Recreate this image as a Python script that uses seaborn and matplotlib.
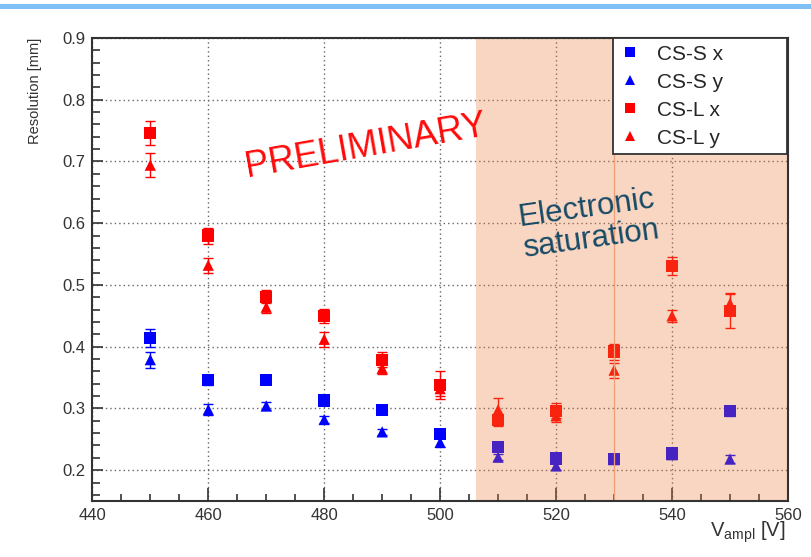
import numpy as np
import pandas as pd
import matplotlib
matplotlib.use("Agg")
import matplotlib.pyplot as plt
import seaborn as sns
from matplotlib.lines import Line2D
from matplotlib.ticker import MultipleLocator, FormatStrFormatter

# ---------------- data ----------------
voltages = [450, 460, 470, 480, 490, 500, 510, 520, 530, 540, 550]
cs_s_x = [0.414, 0.346, 0.346, 0.313, 0.298, 0.259, 0.238, 0.219, 0.218, 0.227, 0.296]
cs_s_x_err = [0.014, 0.008, 0.006, 0.005, 0.005, 0.006, 0.005, 0.005, 0.004, 0.004, 0.008]
cs_s_y = [0.379, 0.298, 0.304, 0.282, 0.262, 0.245, 0.221, 0.207, 0.217, 0.225, 0.218]
cs_s_y_err = [0.013, 0.009, 0.007, 0.006, 0.005, 0.007, 0.005, 0.006, 0.004, 0.004, 0.006]
cs_l_x = [0.746, 0.580, 0.481, 0.450, 0.379, 0.338, 0.281, 0.296, 0.392, 0.531, 0.458]
cs_l_x_err = [0.020, 0.013, 0.011, 0.011, 0.012, 0.022, 0.010, 0.012, 0.013, 0.015, 0.028]
cs_l_y = [0.694, 0.532, 0.464, 0.412, 0.365, 0.332, 0.298, 0.288, 0.362, 0.450, 0.470]
cs_l_y_err = [0.019, 0.012, 0.009, 0.012, 0.010, 0.012, 0.019, 0.010, 0.012, 0.010, 0.017]

series_names = ["CS-S x", "CS-S y", "CS-L x", "CS-L y"]
series_colors = {"CS-S x": "#0000ff", "CS-S y": "#0000ff", "CS-L x": "#ff0000", "CS-L y": "#ff0000"}
series_markers = {"CS-S x": "s", "CS-S y": "^", "CS-L x": "s", "CS-L y": "^"}
series_sizes = {"CS-S x": 78, "CS-S y": 66, "CS-L x": 78, "CS-L y": 66}

saturation_start = 506.1
x_min, x_max = 440, 560
y_min, y_max = 0.15, 0.9

# draw order: triangles first, squares on top
draw_order = [("CS-S y", cs_s_y, cs_s_y_err), ("CS-L y", cs_l_y, cs_l_y_err),
              ("CS-S x", cs_s_x, cs_s_x_err), ("CS-L x", cs_l_x, cs_l_x_err)]

frames = []
for name, vals, errs in draw_order:
    frames.append(pd.DataFrame({"V": voltages, "res": vals, "err": errs, "series": name}))
df = pd.concat(frames, ignore_index=True)

# ---------------- style ----------------
sns.set_style("ticks")
plt.rcParams["font.family"] = ["Liberation Sans", "DejaVu Sans"]
plt.rcParams["mathtext.fontset"] = "custom"
plt.rcParams["mathtext.rm"] = "Liberation Sans"

fig = plt.figure(figsize=(8.12, 5.57), dpi=100)
ax = fig.add_axes([0.1137, 0.1005, 0.8567, 0.8313])

# error bars
for name, vals, errs in draw_order:
    ax.errorbar(voltages, vals, yerr=errs, fmt="none", ecolor=series_colors[name],
                elinewidth=1.0, capsize=3.5, capthick=1.0, zorder=2)

sns.scatterplot(data=df, x="V", y="res", hue="series", style="series", size="series",
                palette=series_colors, markers=series_markers, sizes=series_sizes,
                linewidth=0, legend=False, ax=ax, zorder=2.5)

# saturation band
ax.axvspan(saturation_start, x_max, color=(238/255, 122/255, 55/255), alpha=0.3, lw=0, zorder=3)
ax.axvline(530, color="#ee9f78", lw=0.9, zorder=3.2)

ax.set_xlim(x_min, x_max)
ax.set_ylim(y_min, y_max)
ax.xaxis.set_major_locator(MultipleLocator(20))
ax.xaxis.set_minor_locator(MultipleLocator(5))
ax.yaxis.set_major_locator(MultipleLocator(0.1))
ax.yaxis.set_minor_locator(MultipleLocator(0.02))
ax.yaxis.set_major_formatter(FormatStrFormatter("%.1f"))
ax.xaxis.set_major_formatter(FormatStrFormatter("%d"))

ax.grid(True, which="major", color="#666666", linestyle=(0, (1, 2.2)), linewidth=1.0)
ax.set_axisbelow(True)

ax.tick_params(axis="both", which="both", direction="in", top=False, right=False,
               colors="#333333", labelcolor="#333333", width=1.2)
ax.tick_params(axis="y", which="major", length=8, pad=5, labelsize=12)
ax.tick_params(axis="y", which="minor", length=6)
ax.tick_params(axis="x", which="major", length=9.5, pad=5, labelsize=12)
ax.tick_params(axis="x", which="minor", length=5)
for sp in ax.spines.values():
    sp.set_visible(True)
    sp.set_color("#333333")
    sp.set_linewidth(1.5)
    sp.set_zorder(6)

ax.set_ylabel("Resolution [mm]", loc="top", fontsize=10.5, color="#333333")
ax.yaxis.set_label_coords(-0.0727, 1.0)
ax.set_xlabel(r"V$_{\mathrm{ampl}}$ [V]", loc="right", fontsize=14.5, color="#333333")
ax.xaxis.set_label_coords(0.996, -0.04)

# legend
handles = [Line2D([0], [0], marker=series_markers[n], color=series_colors[n], linestyle="none",
                  markersize=7.2 if series_markers[n] == "s" else 6.8, markeredgewidth=0)
           for n in series_names]
leg = ax.legend(handles, series_names, loc="upper left", bbox_to_anchor=(0.748, 0.752, 0.250, 0.248),
                mode="expand", fontsize=15, frameon=True, fancybox=False, framealpha=1,
                edgecolor="#333333", borderaxespad=0, handlelength=1.0, handletextpad=0.8,
                labelspacing=0.43, borderpad=0.32)
leg.get_frame().set_linewidth(1.3)
leg.set_zorder(7)

# annotations
fig.text(366 / 812, 1 - 146 / 557, "PRELIMINARY", color="#ff0a0a", fontsize=26, rotation=10,
         ha="center", va="center", rotation_mode="anchor", zorder=8)
fig.text(589 / 812, 1 - 224 / 557, "Electronic\nsaturation", color="#174a66", fontsize=22.5,
         rotation=8, ha="center", va="center", multialignment="center", rotation_mode="anchor",
         linespacing=1.1, zorder=8)

# slide banner line on top
fig.add_artist(Line2D([0, 1], [1 - 5.8 / 557] * 2, transform=fig.transFigure,
                      color="#7fc1f7", lw=3.6))

fig.savefig("out.png", dpi=100)
